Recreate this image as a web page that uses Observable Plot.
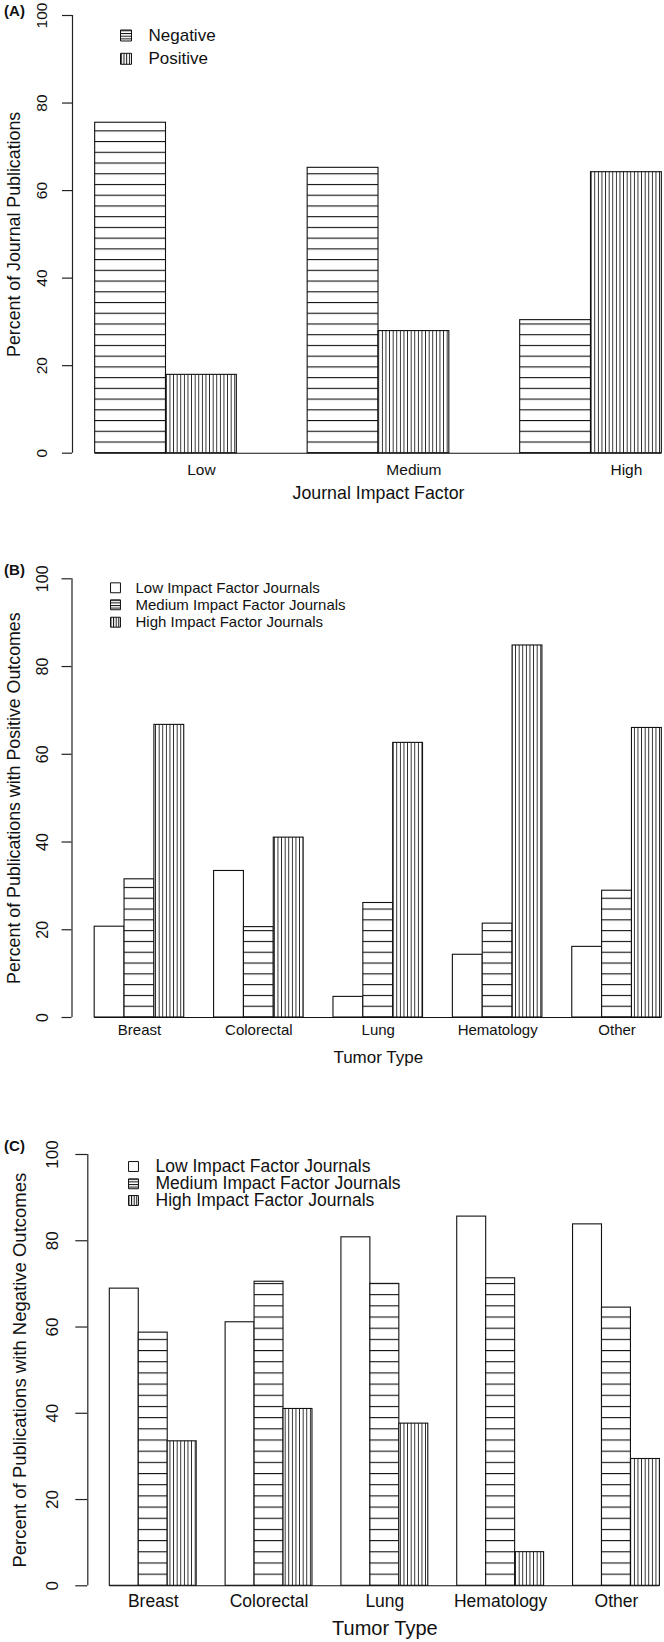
<!DOCTYPE html>
<html><head><meta charset="utf-8">
<script src="https://cdn.jsdelivr.net/npm/d3@7"></script>
<script src="https://cdn.jsdelivr.net/npm/@observablehq/plot@0.6"></script>
<style>
html,body{margin:0;padding:0;background:#fff;overflow:hidden;}
#page{position:relative;width:664px;height:1642px;overflow:hidden;background:#fff;}
.panel{position:absolute;left:0;width:664px;overflow:hidden;}
</style></head><body><div id="page"></div>
<script>
// ---- data ----
const yTicks = [0, 20, 40, 60, 80, 100];

const impactLevels = ["Low", "Medium", "High"];
const outcomeSeries = ["Negative", "Positive"];
const panelA_negative = [75.5, 65.2, 30.4];
const panelA_positive = [17.9, 27.9, 64.2];

const tumorTypes = ["Breast", "Colorectal", "Lung", "Hematology", "Other"];
const journalSeries = ["Low Impact Factor Journals", "Medium Impact Factor Journals", "High Impact Factor Journals"];
const panelB_low = [20.7, 33.4, 4.7, 14.3, 16.1];
const panelB_medium = [31.5, 20.6, 26.1, 21.4, 28.9];
const panelB_high = [66.7, 41.0, 62.6, 84.8, 66.0];

const panelC_low = [68.9, 61.1, 80.8, 85.6, 83.8];
const panelC_medium = [58.7, 70.5, 70.0, 71.3, 64.5];
const panelC_high = [33.5, 41.0, 37.6, 7.8, 29.4];

const FONT = "'Liberation Sans', Arial, Helvetica, sans-serif";
const INK = "#111";

function makePanel(cfg) {
  const nS = cfg.series.length, nG = cfg.groups.length;
  const rows = [];
  cfg.groups.forEach((g, gi) => cfg.series.forEach((s, si) => {
    const left = gi * (nS + 1) + si + 1;
    rows.push({group: g, series: s, si, value: cfg.values[si][gi], x1: left, x2: left + 1});
  }));
  const first = 1, last = nG * (nS + 1);
  const pad = 0.04 * (last - first);
  const xl = first - pad, xr = last + pad;
  const tickPos = cfg.groups.map((g, gi) => gi * (nS + 1) + cfg.labelSlot);
  const nameAt = new Map(tickPos.map((p, i) => [p, cfg.groups[i]]));
  const url = k => `url(#${k}-${cfg.id})`;
  const fillFor = {open: "white", h: url("h"), v: url("v")};
  const legFill = {open: "white", h: url("lh"), v: url("lv")};
  const ml = cfg.ml, mt = cfg.mt, top = cfg.top;

  const marks = [];
  marks.push(Plot.ruleY([0], {x1: first, x2: last, stroke: INK, strokeWidth: 1.1}));
  cfg.series.forEach((s, si) => {
    marks.push(Plot.rect(rows.filter(d => d.si === si), {
      x1: "x1", x2: "x2", y1: 0, y2: "value",
      fill: fillFor[cfg.kinds[si]], stroke: INK, strokeWidth: 1.1
    }));
  });
  marks.push(Plot.ruleX([xl], {y1: 0, y2: 100, stroke: "#222", strokeWidth: 1.2}));
  marks.push(Plot.axisY(yTicks, {tickSize: cfg.tickLen, fill: "none", stroke: "#222", strokeWidth: 1.2, label: null}));
  marks.push(Plot.text(yTicks, {y: d => d, text: d => String(d), frameAnchor: "left",
    textAnchor: "middle", lineAnchor: "middle",
    dx: cfg.yLabelX - ml, rotate: -90, fontSize: cfg.yTickFont, fill: INK}));
  marks.push(Plot.axisX(tickPos, {tickSize: 0, tickPadding: cfg.xTickPad, tickFormat: d => nameAt.get(d),
    fontSize: cfg.xTickFont, label: null, fill: INK}));
  marks.push(Plot.text([cfg.xTitle], {x: (xl + xr) / 2, text: d => d, frameAnchor: "bottom",
    textAnchor: "middle", lineAnchor: "middle",
    dy: cfg.xTitleDy, fontSize: cfg.xTitleFont, fill: INK}));
  marks.push(Plot.text([cfg.yTitle], {text: d => d, frameAnchor: "left", dx: cfg.yTitleX - ml,
    textAnchor: "middle", lineAnchor: "middle",
    rotate: -90, fontSize: cfg.yTitleFont, fill: INK}));
  marks.push(Plot.text([cfg.tag], {text: d => d, frameAnchor: "top-left", dx: cfg.tagX - ml,
    dy: cfg.tagY - top - mt, textAnchor: "middle", lineAnchor: "middle",
    fontSize: cfg.tagFont, fontWeight: "bold", fill: INK}));
  cfg.series.forEach((s, si) => {
    const cy = cfg.legY[si] - top - mt;
    marks.push(Plot.dot([s], {frameAnchor: "top-left", dx: cfg.legSwX - ml, dy: cy, symbol: "square",
      r: cfg.legR, fill: legFill[cfg.kinds[si]], stroke: INK, strokeWidth: 1}));
    marks.push(Plot.text([s], {text: d => d, frameAnchor: "top-left", dx: cfg.legTextX - ml, dy: cy,
      textAnchor: "start", lineAnchor: "middle", fontSize: cfg.legFont, fill: INK}));
  });

  const svg = Plot.plot({
    width: 664, height: cfg.height,
    marginLeft: ml, marginRight: 0, marginTop: mt, marginBottom: cfg.mb,
    x: {type: "linear", domain: [xl, xr], range: [ml, cfg.xRight]},
    y: {domain: [0, 100]},
    style: {fontFamily: FONT, background: "white", overflow: "hidden", color: INK},
    marks
  });

  const baseY = cfg.height - cfg.mb;
  const hg = cfg.hGap, vg = cfg.vGap, lg = cfg.legGap;
  const defs = document.createElementNS("http://www.w3.org/2000/svg", "defs");
  defs.innerHTML = `
    <pattern id="h-${cfg.id}" patternUnits="userSpaceOnUse" x="0" y="${baseY - 0.5}" width="10" height="${hg}">
      <rect width="10" height="${hg}" fill="#fff"/><rect width="10" height="1.1" fill="${INK}"/></pattern>
    <pattern id="v-${cfg.id}" patternUnits="userSpaceOnUse" x="0.3" y="0" width="${vg}" height="10">
      <rect width="${vg}" height="10" fill="#fff"/><rect width="0.9" height="10" fill="#222"/></pattern>
    <pattern id="lh-${cfg.id}" patternUnits="userSpaceOnUse" x="0" y="0.2" width="10" height="${lg}">
      <rect width="10" height="${lg}" fill="#fff"/><rect width="10" height="1" fill="${INK}"/></pattern>
    <pattern id="lv-${cfg.id}" patternUnits="userSpaceOnUse" x="0.2" y="0" width="${lg}" height="10">
      <rect width="${lg}" height="10" fill="#fff"/><rect width="1" height="10" fill="${INK}"/></pattern>`;
  svg.insertBefore(defs, svg.firstChild);

  const div = document.createElement("div");
  div.className = "panel";
  div.style.top = top + "px";
  div.style.height = cfg.height + "px";
  div.appendChild(svg);
  document.getElementById("page").appendChild(div);
}

// Panel A
makePanel({
  id: "A", top: 0, height: 530, ml: 72, mt: 15, mb: 77.3, xRight: 684,
  groups: impactLevels, series: outcomeSeries, values: [panelA_negative, panelA_positive],
  kinds: ["h", "v"], labelSlot: 2.5,
  tickLen: 10, yLabelX: 42, yTickFont: 15.5,
  xTickPad: 11, xTickFont: 15.5,
  xTitle: "Journal Impact Factor", xTitleDy: 40, xTitleFont: 17.8,
  yTitle: "Percent of Journal Publications", yTitleX: 14, yTitleFont: 17.8,
  tag: "(A)", tagX: 14, tagY: 11, tagFont: 15,
  legY: [35, 58.3], legSwX: 125.5, legR: 6.2, legTextX: 148, legFont: 17,
  hGap: 10.73, vGap: 3.6, legGap: 2.7
});

// Panel B
makePanel({
  id: "B", top: 530, height: 545, ml: 71.5, mt: 48.3, mb: 58, xRight: 684,
  groups: tumorTypes, series: journalSeries, values: [panelB_low, panelB_medium, panelB_high],
  kinds: ["open", "h", "v"], labelSlot: 2.5,
  tickLen: 10, yLabelX: 42, yTickFont: 16,
  xTickPad: 7, xTickFont: 15,
  xTitle: "Tumor Type", xTitleDy: 40, xTitleFont: 17,
  yTitle: "Percent of Publications with Positive Outcomes", yTitleX: 14, yTitleFont: 17.8,
  tag: "(B)", tagX: 14, tagY: 570, tagFont: 15,
  legY: [587.3, 604.3, 621.7], legSwX: 115, legR: 5.6, legTextX: 135, legFont: 15,
  hGap: 10.8, vGap: 3.6, legGap: 2.6
});

// Panel C
makePanel({
  id: "C", top: 1075, height: 567, ml: 87.3, mt: 79, mb: 56.7, xRight: 681.4,
  groups: tumorTypes, series: journalSeries, values: [panelC_low, panelC_medium, panelC_high],
  kinds: ["open", "h", "v"], labelSlot: 2.5,
  tickLen: 12, yLabelX: 52.5, yTickFont: 17,
  xTickPad: 9.2, xTickFont: 17.5,
  xTitle: "Tumor Type", xTitleDy: 43, xTitleFont: 20,
  yTitle: "Percent of Publications with Negative Outcomes", yTitleX: 20, yTitleFont: 18.5,
  tag: "(C)", tagX: 14, tagY: 1146, tagFont: 15,
  legY: [1166, 1183.3, 1200], legSwX: 133, legR: 5.6, legTextX: 155, legFont: 17.5,
  hGap: 11.18, vGap: 3.6, legGap: 2.6
});
</script>
</body></html>
